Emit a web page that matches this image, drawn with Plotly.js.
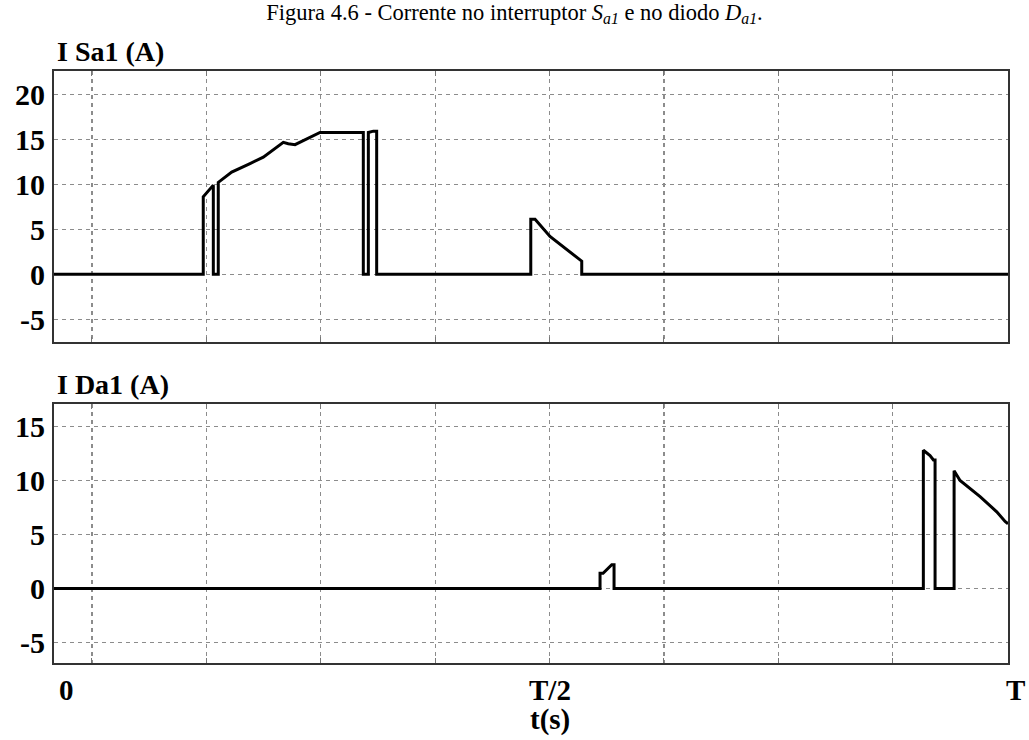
<!DOCTYPE html>
<html>
<head>
<meta charset="utf-8">
<script src="https://cdn.plot.ly/plotly-3.0.1.min.js"></script>
<style>
  html, body { margin: 0; padding: 0; background: #fff; }
  #chart { width: 1029px; height: 740px; }
</style>
</head>
<body>
<div id="chart"></div>
<script>
// ---- data (time as a fraction of the period T) ----
const tSa1 = [-0.0415, 0.1216, 0.1216, 0.1326, 0.1326, 0.1380, 0.1380, 0.1527, 0.1727, 0.1872,
              0.2091, 0.2145, 0.2219, 0.2273, 0.2492, 0.2965, 0.2965, 0.3020, 0.3020, 0.3074,
              0.3111, 0.3111, 0.4795, 0.4795, 0.4842, 0.5005, 0.5188, 0.5352, 0.5352, 1.001];
const iSa1 = [0, 0, 8.6, 9.9, 0, 0, 10.2, 11.35, 12.3, 13.0,
              14.65, 14.5, 14.4, 14.65, 15.75, 15.75, 0, 0, 15.75, 15.9,
              15.9, 0, 0, 6.1, 6.1, 4.2, 2.75, 1.45, 0, 0];

const tDa1 = [-0.0415, 0.5552, 0.5552, 0.5585, 0.5680, 0.5705, 0.5705, 0.9085, 0.9085, 0.9158,
              0.9195, 0.9213, 0.9213, 0.9421, 0.9421, 0.9486, 0.9705, 0.9887, 0.9978, 1.001];
const iDa1 = [0, 0, 1.4, 1.4, 2.2, 2.2, 0, 0, 12.8, 12.3,
              11.9, 11.9, 0, 0, 10.9, 10.0, 8.5, 7.1, 6.2, 6.0];

const gridT = [0, 0.125, 0.25, 0.375, 0.5, 0.625, 0.75, 0.875];
const xTickPos = [-0.028, 0.5, 1.009];
const xTickText = ['0', 'T/2', 'T'];
const ticksSa1 = [-5, 0, 5, 10, 15, 20];
const ticksDa1 = [-5, 0, 5, 10, 15];

const panelTitles = ['I Sa1 (A)', 'I Da1 (A)'];
const chartTitle = 'Figura 4.6 - Corrente no interruptor <i>S</i><sub><i>a1</i></sub> e no diodo <i>D</i><sub><i>a1</i></sub>.';
const xTitle = 't(s)';

// ---- styling ----
const SERIF = 'Liberation Serif, Times New Roman, serif';
const gridColor = '#8c8c8c';
const frameColor = '#333333';
const XMIN = -0.0415, XMAX = 1.001;

function xAxis(anchor) {
  return {
    anchor: anchor,
    range: [XMIN, XMAX],
    tickmode: 'array',
    tickvals: gridT,
    showticklabels: false,
    ticks: 'inside',
    ticklen: 5,
    tickcolor: '#777',
    showgrid: true,
    gridcolor: gridColor,
    griddash: '4px,4px',
    gridwidth: 1.2,
    zeroline: false,
    showline: true,
    linecolor: frameColor,
    linewidth: 2,
    mirror: 'ticks'
  };
}
function yAxis(anchor, range, domain, vals) {
  return {
    anchor: anchor,
    domain: domain,
    range: range,
    tickmode: 'array',
    tickvals: vals,
    ticktext: vals.map(String),
    ticks: '',
    ticklabelstandoff: 1,
    tickfont: { family: SERIF, size: 30, color: '#000', weight: 'bold' },
    showgrid: true,
    gridcolor: gridColor,
    griddash: '4px,4px',
    gridwidth: 1.2,
    zeroline: false,
    showline: true,
    linecolor: frameColor,
    linewidth: 2,
    mirror: true
  };
}

const traces = [
  { x: tSa1, y: iSa1, xaxis: 'x', yaxis: 'y', mode: 'lines',
    line: { color: '#000', width: 3, shape: 'linear' }, hoverinfo: 'skip' },
  { x: tDa1, y: iDa1, xaxis: 'x2', yaxis: 'y2', mode: 'lines',
    line: { color: '#000', width: 3, shape: 'linear' }, hoverinfo: 'skip' }
];

function toPaperX(v) { return (v - XMIN) / (XMAX - XMIN); }

const boldFont = (s) => ({ family: SERIF, size: s, color: '#000', weight: 'bold' });

const annotations = [
  { text: panelTitles[0], xref: 'paper', yref: 'paper', x: 0.001, y: 1.033,
    xanchor: 'left', yanchor: 'middle', showarrow: false, font: boldFont(28) },
  { text: panelTitles[1], xref: 'paper', yref: 'paper', x: 0.001, y: 0.4706,
    xanchor: 'left', yanchor: 'middle', showarrow: false, font: boldFont(28) },
  { text: xTitle, xref: 'paper', yref: 'paper', x: toPaperX(0.5), y: -0.096,
    xanchor: 'center', yanchor: 'middle', showarrow: false, font: boldFont(29) }
].concat(xTickPos.map((p, k) => ({
  text: xTickText[k], xref: 'paper', yref: 'paper', x: toPaperX(p), y: -0.0456,
  xanchor: 'center', yanchor: 'middle', showarrow: false, font: boldFont(29)
})));

const layout = {
  width: 1029,
  height: 740,
  margin: { l: 54, r: 21, t: 71, b: 77 },
  paper_bgcolor: '#fff',
  plot_bgcolor: '#fff',
  showlegend: false,
  title: {
    text: chartTitle,
    x: 0.5, xref: 'container', xanchor: 'center',
    y: 0.984, yref: 'container', yanchor: 'middle',
    font: { family: SERIF, size: 22.5, color: '#000' }
  },
  xaxis: xAxis('y'),
  yaxis: yAxis('x', [-7.53, 22.58], [0.5422, 1], ticksSa1),
  xaxis2: xAxis('y2'),
  yaxis2: yAxis('x2', [-6.9, 17.08], [0, 0.4375], ticksDa1),
  annotations: annotations
};

Plotly.newPlot('chart', traces, layout, { staticPlot: true, displayModeBar: false });
</script>
</body>
</html>
